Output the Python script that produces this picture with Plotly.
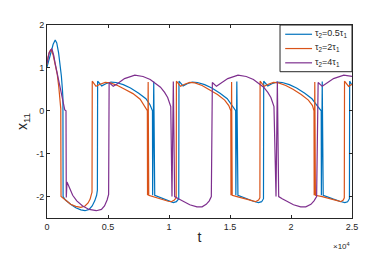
import plotly.graph_objects as go

# ---------------- data (t in raw units, axis shows x10^4) ----------------
t_blue = [0, 168, 337, 505, 673, 800, 951, 1094, 1178, 1263, 1305, 1320,
          1515, 1936, 2357, 2778, 3115, 3452, 3704, 3914, 4066, 4130, 4150,
          4487, 4824, 5244, 5665, 6254, 6844, 7517, 8107, 8443, 8645,
          8660, 8750, 8830,
          9092, 9513, 9934, 10354, 10607, 10800, 10817,
          11154, 11491, 11911, 12332, 12922, 13511, 14184, 14774, 15195, 15464,
          15480, 15560, 15650,
          15910, 16415, 16920, 17341, 17594, 17745, 17762,
          18099, 18436, 18856, 19277, 19866, 20456, 21129, 21718, 22139, 22476,
          22490, 22560, 22640,
          22981, 23486, 23991, 24412, 24640, 24790, 24808,
          25000]
x_blue = [1.02, 1.2, 1.38, 1.55, 1.65, 1.58, 1.35, 1.05, 0.81, 0.5, 0.3, -2.0,
          -2.08, -2.18, -2.26, -2.31, -2.33, -2.3, -2.22, -2.1, -1.97, -1.85, 0.69,
          0.58, 0.63, 0.67, 0.66, 0.61, 0.53, 0.41, 0.28, 0.14, 0.0,
          -1.97, 0.68, -1.97,
          -2.0, -2.06, -2.11, -2.14, -2.12, -2.05, 0.69,
          0.58, 0.63, 0.67, 0.66, 0.61, 0.53, 0.41, 0.28, 0.12, 0.0,
          -1.97, 0.68, -1.97,
          -2.0, -2.06, -2.11, -2.14, -2.12, -2.05, 0.69,
          0.58, 0.63, 0.67, 0.66, 0.61, 0.53, 0.41, 0.28, 0.12, 0.0,
          -1.97, 0.68, -1.97,
          -2.0, -2.06, -2.11, -2.14, -2.12, -2.05, 0.69,
          0.6]

t_orange = [0, 84, 210, 337, 505, 673, 842, 968, 1094, 1128, 1150,
            1263, 1515, 1936, 2357, 2778, 3115, 3367, 3536, 3637, 3690, 3710,
            4015, 4352, 4773, 5194, 5783, 6372, 7046, 7635, 7980, 8225,
            8240, 8292, 8340,
            8671, 9092, 9513, 9934, 10186, 10439, 10590, 10607,
            10943, 11280, 11701, 12122, 12711, 13300, 13974, 14563, 14900, 15068,
            15080, 15130, 15180,
            15573, 16247, 16752, 17089, 17341, 17450, 17467,
            17804, 18141, 18562, 18983, 19572, 20161, 20835, 21424, 21761, 21887,
            21900, 21950, 22000,
            22560, 23150, 23655, 24075, 24285, 24370, 24387,
            24724, 25000]
x_orange = [1.08, 1.25, 1.38, 1.43, 1.3, 1.1, 0.85, 0.55, 0.2, 0.05, -2.0,
            -2.03, -2.08, -2.18, -2.23, -2.25, -2.22, -2.15, -2.06, -1.95, -1.9, 0.69,
            0.57, 0.62, 0.66, 0.65, 0.59, 0.5, 0.4, 0.27, 0.12, 0.0,
            -1.97, 0.67, -1.97,
            -2.0, -2.04, -2.08, -2.11, -2.12, -2.08, -2.03, 0.69,
            0.57, 0.62, 0.66, 0.65, 0.59, 0.5, 0.38, 0.25, 0.12, 0.0,
            -1.97, 0.67, -1.97,
            -2.0, -2.06, -2.1, -2.12, -2.08, -2.03, 0.69,
            0.57, 0.62, 0.66, 0.65, 0.59, 0.5, 0.38, 0.25, 0.12, 0.0,
            -1.97, 0.67, -1.97,
            -2.0, -2.05, -2.1, -2.12, -2.08, -2.03, 0.69,
            0.57, 0.62]

t_purple = [0, 168, 396, 547, 673, 884, 1094, 1263, 1372, 1456, 1557, 1580, 1640,
            1936, 2105, 2441, 2921, 3451, 4041, 4462, 4714, 4925, 5051, 5093,
            5429, 5766, 6356, 7197, 7871, 8460, 8881, 9302, 9639, 9891, 10144, 10245,
            10354, 10464,
            10775, 11196, 11701, 12290, 12711, 13048, 13300, 13469, 13553,
            13890, 14226, 14816, 15657, 16331, 16920, 17341, 17762, 18099, 18352, 18604, 18772,
            18881, 18991,
            19277, 19698, 20203, 20792, 21213, 21634, 21887, 22100, 22224,
            22560, 22897, 23486, 24328, 25000]
x_purple = [1.1, 1.35, 1.45, 1.3, 1.1, 0.8, 0.58, 0.32, 0.12, 0.02, 0.0, -2.02, -1.66,
            -1.88, -1.97, -2.1, -2.22, -2.3, -2.33, -2.3, -2.22, -2.08, -1.95, 0.66,
            0.57, 0.63, 0.75, 0.83, 0.8, 0.73, 0.65, 0.55, 0.43, 0.31, 0.1, -2.0,
            0.68, -2.0,
            -2.05, -2.12, -2.19, -2.24, -2.24, -2.18, -2.1, -2.0, 0.66,
            0.57, 0.63, 0.75, 0.83, 0.8, 0.73, 0.65, 0.55, 0.43, 0.31, 0.1, -2.0,
            0.68, -2.0,
            -2.05, -2.12, -2.19, -2.24, -2.24, -2.18, -2.1, -2.0, 0.66,
            0.57, 0.63, 0.75, 0.83, 0.8]

names = ["τ<sub>2</sub>=0.5τ<sub>1</sub>", "τ<sub>2</sub>=2τ<sub>1</sub>", "τ<sub>2</sub>=4τ<sub>1</sub>"]
colors = ["#0072BD", "#D95319", "#7E2F8E"]

x_tickvals = [0, 5000, 10000, 15000, 20000, 25000]
x_ticktext = ["0", "0.5", "1", "1.5", "2", "2.5"]
y_tickvals = [-2, -1, 0, 1, 2]
y_ticktext = ["-2", "-1", "0", "1", "2"]

FONT = "Liberation Sans, Arial, Helvetica, sans-serif"
INK = "#262626"

fig = go.Figure()
for t, x, n, c in [(t_blue, x_blue, names[0], colors[0]),
                   (t_orange, x_orange, names[1], colors[1]),
                   (t_purple, x_purple, names[2], colors[2])]:
    fig.add_trace(go.Scatter(x=t, y=x, mode="lines", name=n, showlegend=False,
                             line=dict(color=c, width=1.2)))

axis_common = dict(showline=True, linecolor=INK, linewidth=1, mirror="ticks",
                   ticks="inside", ticklen=3, tickcolor=INK, showgrid=False,
                   zeroline=False, tickfont=dict(family=FONT, size=9, color=INK))

# page body has an 8px margin in the browser -> compensate
fig.update_layout(
    width=374, height=247,
    margin=dict(l=39, r=30, t=12, b=33),
    paper_bgcolor="white", plot_bgcolor="white",
    font=dict(family=FONT, color=INK),
    xaxis=dict(range=[0, 25000], tickvals=x_tickvals, ticktext=x_ticktext,
               title=dict(text="t", font=dict(size=14, family=FONT), standoff=1),
               **axis_common),
    yaxis=dict(range=[-2.5, 2], tickvals=y_tickvals, ticktext=y_ticktext,
               title=dict(text="x<sub>11</sub>", font=dict(size=14, family=FONT), standoff=5),
               **axis_common),
    showlegend=False,
)

# compact MATLAB-style legend box (top right, inside the axes)
box_x0, box_x1, box_y0, box_y1 = 0.764, 1.0, 0.758, 1.0
fig.add_shape(type="rect", xref="paper", yref="paper",
              x0=box_x0, x1=box_x1, y0=box_y0, y1=box_y1,
              line=dict(color=INK, width=1), fillcolor="white", layer="above")
entry_y = [0.952, 0.878, 0.804]
for n, c, yy in zip(names, colors, entry_y):
    fig.add_shape(type="line", xref="paper", yref="paper",
                  x0=0.781, x1=0.869, y0=yy, y1=yy,
                  line=dict(color=c, width=1.2), layer="above")
    fig.add_annotation(text=n, xref="paper", yref="paper", x=0.872, y=yy + 0.004,
                       xanchor="left", yanchor="middle", showarrow=False,
                       font=dict(size=9, family=FONT, color=INK))

fig.add_annotation(text="×10<sup>4</sup>", xref="paper", yref="paper",
                   x=1.0, y=-0.11, xanchor="right", yanchor="top",
                   showarrow=False, font=dict(size=8, family=FONT, color=INK))

fig.write_html("out.html")
